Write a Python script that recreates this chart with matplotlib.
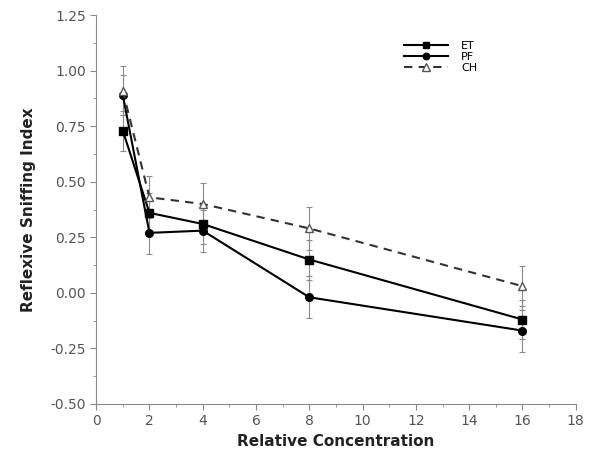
import numpy as np
import matplotlib.pyplot as plt
from matplotlib.ticker import MultipleLocator

# data
conc = [1, 2, 4, 8, 16]
et = [0.73, 0.36, 0.31, 0.15, -0.12]
et_err = [0.09, 0.09, 0.09, 0.09, 0.09]
pf = [0.89, 0.27, 0.28, -0.02, -0.17]
pf_err = [0.09, 0.095, 0.095, 0.095, 0.095]
ch = [0.91, 0.43, 0.40, 0.29, 0.03]
ch_err = [0.11, 0.095, 0.095, 0.095, 0.09]

fig = plt.figure(figsize=(6.01, 4.59), dpi=100)
ax = fig.add_axes([0.16, 0.12, 0.798, 0.847])

err_kw = dict(ecolor='#8a8a8a', elinewidth=0.8, capsize=2.5, capthick=0.8)
e1 = ax.errorbar(conc, et, yerr=et_err, color='black', lw=1.5, marker='s', ms=5.5, **err_kw)
e2 = ax.errorbar(conc, pf, yerr=pf_err, color='black', lw=1.5, marker='o', ms=5.5, **err_kw)
e3 = ax.errorbar(conc, ch, yerr=ch_err, color='#333333', lw=1.5, ls=(0, (4, 3)), marker='^',
                 ms=6, mfc='white', mec='#555555', **err_kw)

ax.set_xlim(0, 18)
ax.set_ylim(-0.5, 1.25)
ax.xaxis.set_major_locator(MultipleLocator(2))
ax.xaxis.set_minor_locator(MultipleLocator(1))
ax.yaxis.set_major_locator(MultipleLocator(0.25))
ax.yaxis.set_minor_locator(MultipleLocator(0.125))
ax.yaxis.set_major_formatter(plt.FuncFormatter(lambda v, p: f'{v:.2f}'))

for s in ['top', 'right']:
    ax.spines[s].set_visible(False)
for s in ['left', 'bottom']:
    ax.spines[s].set_color('#888888')
ax.tick_params(which='both', direction='out', color='#888888', labelcolor='#555555',
               labelsize=10)
ax.tick_params(which='major', length=4)
ax.tick_params(which='minor', length=2)

ax.set_xlabel('Relative Concentration', fontsize=11, fontweight='bold', color='#222222')
ax.set_ylabel('Reflexive Sniffing Index', fontsize=11, fontweight='bold', color='#222222',
              labelpad=10)

# legend without the error bar glyphs
ax.legend([e1[0], e2[0], e3[0]], ['ET', 'PF', 'CH'], loc='upper left',
          bbox_to_anchor=(0.62, 0.96), frameon=False, fontsize=8,
          handlelength=4, labelspacing=0.1, handletextpad=1.2, markerscale=0.85)

fig.savefig('out.png', dpi=100)
